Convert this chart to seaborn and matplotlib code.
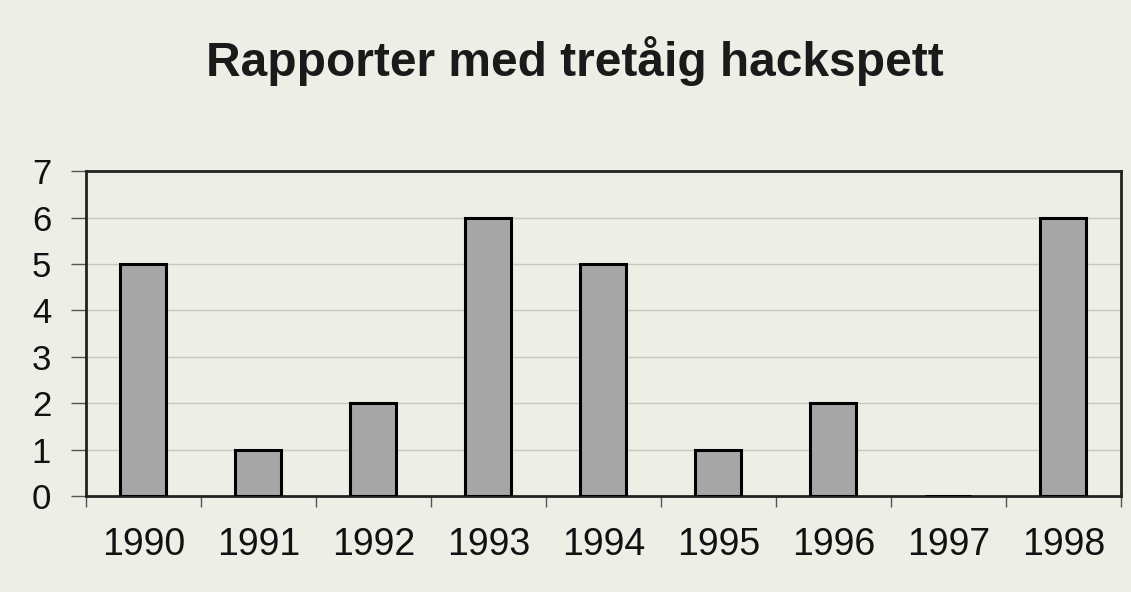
import matplotlib
matplotlib.use("Agg")
import matplotlib.pyplot as plt
import seaborn as sns
import pandas as pd
import numpy as np
from matplotlib.ticker import FixedLocator

years = ["1990", "1991", "1992", "1993", "1994", "1995", "1996", "1997", "1998"]
reports = [5, 1, 2, 6, 5, 1, 2, 0, 6]
title = "Rapporter med tretåig hackspett"
yticks = [0, 1, 2, 3, 4, 5, 6, 7]

sns.set_theme(style="white")
plt.rcParams['font.family'] = ['Liberation Sans', 'DejaVu Sans']

paper = "#edefe6"
fig = plt.figure(figsize=(11.31, 5.92), dpi=100, facecolor=paper)
ax = fig.add_axes([0.076, 0.162, 0.915, 0.549])
ax.set_facecolor(paper)

df = pd.DataFrame({"year": years, "reports": reports})
sns.barplot(data=df, x="year", y="reports", ax=ax, color="#a6a6a6",
            saturation=1, width=0.4, edgecolor="black", linewidth=2.2, zorder=3)

ax.set_ylim(0, 7)
ax.set_xlim(-0.5, len(years) - 0.5)
ax.set_yticks(yticks)
ax.yaxis.grid(True, color="#c8cac2", linewidth=1, zorder=0)
ax.set_axisbelow(True)
ax.set_xlabel("")
ax.set_ylabel("")
ax.tick_params(axis="y", labelsize=25, length=11, width=1, color="#555555",
               direction="out", left=True, pad=14, labelcolor="#111111")
ax.tick_params(axis="x", which="major", labelsize=27, length=0, pad=22,
               labelcolor="#111111")
ax.xaxis.set_minor_locator(FixedLocator(np.arange(-0.5, len(years), 1.0)))
ax.tick_params(axis="x", which="minor", length=8, width=1, color="#555555",
               direction="out", bottom=True)
for s in ax.spines.values():
    s.set_visible(True)
    s.set_color("#222222")
    s.set_linewidth(2)

fig.text(0.508, 1 - 76 / 592, title, ha="center", va="baseline", fontsize=34.5,
         fontweight="bold", color="#1a1a1a")

fig.savefig("out.png", dpi=100, facecolor=paper)
